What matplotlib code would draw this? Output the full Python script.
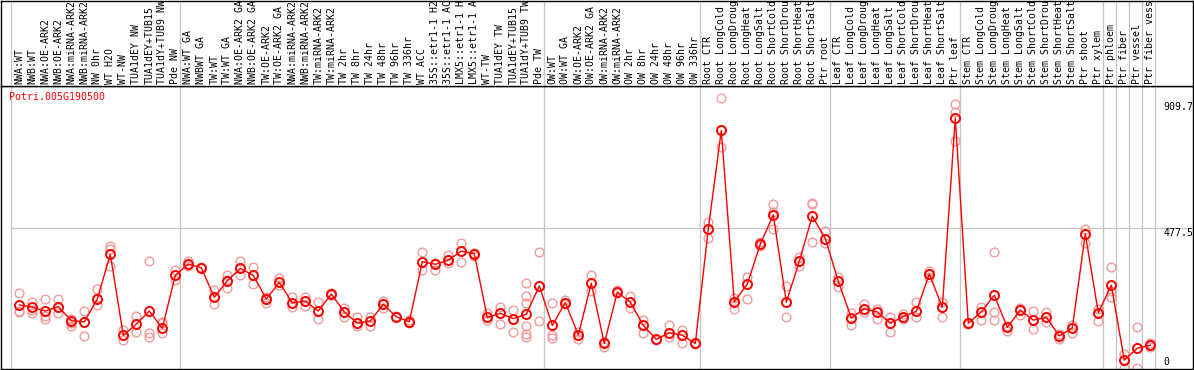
import matplotlib
matplotlib.use('Agg')
import matplotlib.pyplot as plt
import matplotlib.transforms as mtransforms
import numpy as np

# Sample labels (one column each), as far as they show in the header strip
labels = [
    'NWA:WT', 'NWB:WT', 'NWA:OE-ARK2', 'NWB:OE-ARK2', 'NWA:miRNA-ARK2', 'NWB:miRNA-ARK2',
    'NW 0hr', 'WT H2O', 'WT-NW', 'TUA1dEY NW', 'TUA1dEY+TUB15', 'TUA1dY+TUB9 NW', 'Pde NW',
    'NWA:WT GA', 'NWBWT GA', 'TW:WT', 'TW:WT GA', 'NWA:OE-ARK2 GA', 'NWB:OE-ARK2 GA',
    'TW:OE-ARK2', 'TW:OE-ARK2 GA', 'NWA:miRNA-ARK2', 'NWB:miRNA-ARK2', 'TW:miRNA-ARK2',
    'TW:miRNA-ARK2', 'TW 2hr', 'TW 8hr', 'TW 24hr', 'TW 48hr', 'TW 96hr', 'TW 336hr',
    'WT ACC', '35S::etr1-1 H2', '35S::etr1-1 AC', 'LMX5::etr1-1 H', 'LMX5::etr1-1 A',
    'WT-TW', 'TUA1dEY TW', 'TUA1dEY+TUB15', 'TUA1dY+TUB9 TW', 'Pde TW',
    'OW:WT', 'OW:WT GA', 'OW:OE-ARK2', 'OW:OE-ARK2 GA', 'OW:miRNA-ARK2', 'OW:miRNA-ARK2',
    'OW 2hr', 'OW 8hr', 'OW 24hr', 'OW 48hr', 'OW 96hr', 'OW 336hr',
    'Root CTR', 'Root LongCold', 'Root LongDroug', 'Root LongHeat', 'Root LongSalt',
    'Root ShortCold', 'Root ShortDrou', 'Root ShortHeat', 'Root ShortSalt', 'Ptr root',
    'Leaf CTR', 'Leaf LongCold', 'Leaf LongDroug', 'Leaf LongHeat', 'Leaf LongSalt',
    'Leaf ShortCold', 'Leaf ShortDrou', 'Leaf ShortHeat', 'Leaf ShortSalt', 'Ptr leaf',
    'Stem CTR', 'Stem LongCold', 'Stem LongDroug', 'Stem LongHeat', 'Stem LongSalt',
    'Stem ShortCold', 'Stem ShortDrou', 'Stem ShortHeat', 'Stem ShortSalt', 'Ptr shoot',
    'Ptr xylem', 'Ptr phloem', 'Ptr fiber', 'Ptr vessel', 'Ptr fiber vess',
]

# mean expression per sample
means = [
    216, 208, 195, 210, 162, 158, 236, 389, 112, 150, 195, 136, 317,
    356, 343, 242, 298, 341, 317, 236, 293, 223, 229, 195, 253, 192, 153, 161, 218, 175, 158,
    364, 355, 369, 400, 391, 173, 187, 169, 184, 281,
    146, 224, 113, 290, 84, 260, 225, 146, 98, 121, 112, 84,
    476, 813, 226, 287, 424, 524, 225, 365, 520, 443,
    297, 171, 203, 192, 153, 176, 194, 322, 208, 855,
    153, 192, 249, 139, 198, 164, 173, 110, 137, 459, 189,
    283, 27, 68, 78,
]

# replicate values per sample
replicates = [
    [256, 196, 190], [227, 198, 187], [236, 178, 167], [236, 208, 187], [167, 153, 144],
    [196, 158, 111], [270, 238, 216], [418, 406, 350], [130, 112, 96], [179, 150, 123],
    [365, 119, 105], [158, 153, 119], [335, 317, 301],
    [367, 356, 349], [343, 345, 341], [267, 242, 219], [318, 300, 275], [365, 341, 317],
    [345, 317, 286], [242, 236, 223], [307, 293, 284], [242, 223, 210], [244, 229, 212],
    [225, 195, 167], [250, 255, 253], [204, 192, 176], [173, 153, 144], [173, 161, 144],
    [230, 218, 204], [175, 177, 173], [164, 158, 155], [398, 364, 335], [358, 355, 335],
    [387, 369, 360], [427, 400, 362], [395, 391, 383], [187, 173, 164], [210, 187, 150],
    [198, 169, 124], [290, 246, 224, 144, 115, 107], [398, 281, 161],
    [224, 113, 104], [233, 224, 218], [124, 113, 98], [318, 290, 265], [84, 73, 90],
    [267, 260, 255], [246, 225, 205], [164, 146, 119], [98, 100, 96], [146, 121, 105],
    [130, 112, 87], [84, 86, 82],
    [501, 476, 444], [923, 813, 757], [238, 226, 203], [312, 287, 235], [424, 418, 430],
    [561, 535, 476], [281, 225, 176], [381, 365, 350], [564, 560, 432], [468, 443, 429],
    [310, 297, 278], [189, 171, 148], [219, 203, 193], [201, 192, 167], [173, 153, 123],
    [184, 176, 168], [227, 194, 173], [333, 322, 312], [227, 208, 176], [903, 877, 777],
    [153, 155, 150], [210, 192, 164], [396, 191, 164], [128, 139, 145], [181, 198, 205],
    [195, 164, 132], [192, 173, 158], [98, 110, 115], [147, 137, 121], [476, 459, 429],
    [201, 189, 162],
    [345, 265, 242], [48, 27, 0], [139, 68, 0], [84, 78, 72],
]

# last column index of each group
group_ends = [12, 40, 52, 62, 72, 83, 84, 85, 86, 87]
tick_values = [909.7, 477.5, 0]
gene = 'Potri.005G190500'

mono = 'DejaVu Sans Mono'
fs = 7.1
gray = '#c4c4c4'

W, H = 1194, 370
fig = plt.figure(figsize=(W / 100, H / 100), dpi=100)

# pixel layout
left_px, right_px = 1, 1192.5
top_px, bot_px = 86, 369
x0_px, step_px = 19.3, 13.0
y0_px, scale = 368, 0.2922

ax = fig.add_axes([left_px / W, (H - bot_px) / H, (right_px - left_px) / W, (bot_px - top_px) / H])
lab = fig.add_axes([left_px / W, (H - top_px) / H, (right_px - left_px) / W, (top_px - 0.5) / H])

xlim = ((left_px - x0_px) / step_px, (right_px - x0_px) / step_px)
ylim = ((y0_px - bot_px) / scale, (y0_px - top_px) / scale)

x = np.arange(len(labels))
bounds = [-0.5 - 0.13] + [g + 0.5 - 0.13 for g in group_ends]

for a in (ax, lab):
    a.set_xlim(*xlim)
    a.set_xticks([])
    a.set_yticks([])
    for s in a.spines.values():
        s.set_color('black')
        s.set_linewidth(1.0)
    for b in bounds:
        a.axvline(b, color=gray, lw=0.9, zorder=0)

ax.set_ylim(*ylim)
lab.set_ylim(0, 1)

# horizontal guide at middle tick
ax.plot([bounds[0], xlim[1]], [477.5, 477.5], color=gray, lw=0.9, zorder=0)

# replicates
for i, reps in enumerate(replicates):
    ax.plot([i] * len(reps), reps, 'o', mfc='none', mec='#f29a9a', ms=6.3, mew=1.0, zorder=2)

# mean line + markers
ax.plot(x, means, '-', color='red', lw=1.0, zorder=3)
ax.plot(x, means, 'o', mfc='none', mec='red', ms=6.5, mew=1.4, zorder=4)

# sample labels
for i, name in enumerate(labels):
    lab.text(i, 2 / top_px, name, rotation=90, ha='center', va='bottom',
             family=mono, fontsize=fs, color='black')

# gene id
ax.text((9.3 - left_px) / (right_px - left_px), (bot_px - 97) / (bot_px - top_px), gene,
        transform=ax.transAxes, family=mono, fontsize=fs, color='red', va='center', ha='left')

# value labels on the right
lx = (1163.5 - left_px) / (right_px - left_px)
trans = mtransforms.blended_transform_factory(ax.transAxes, ax.transData)
for v in tick_values:
    if v == 0:
        ax.text(lx, 7 / (bot_px - top_px), '0', transform=ax.transAxes,
                family=mono, fontsize=fs, va='center', ha='left')
    else:
        ax.text(lx, v, f'{v:g}', transform=trans,
                family=mono, fontsize=fs, va='top', ha='left')

fig.savefig('out.png', dpi=100)
